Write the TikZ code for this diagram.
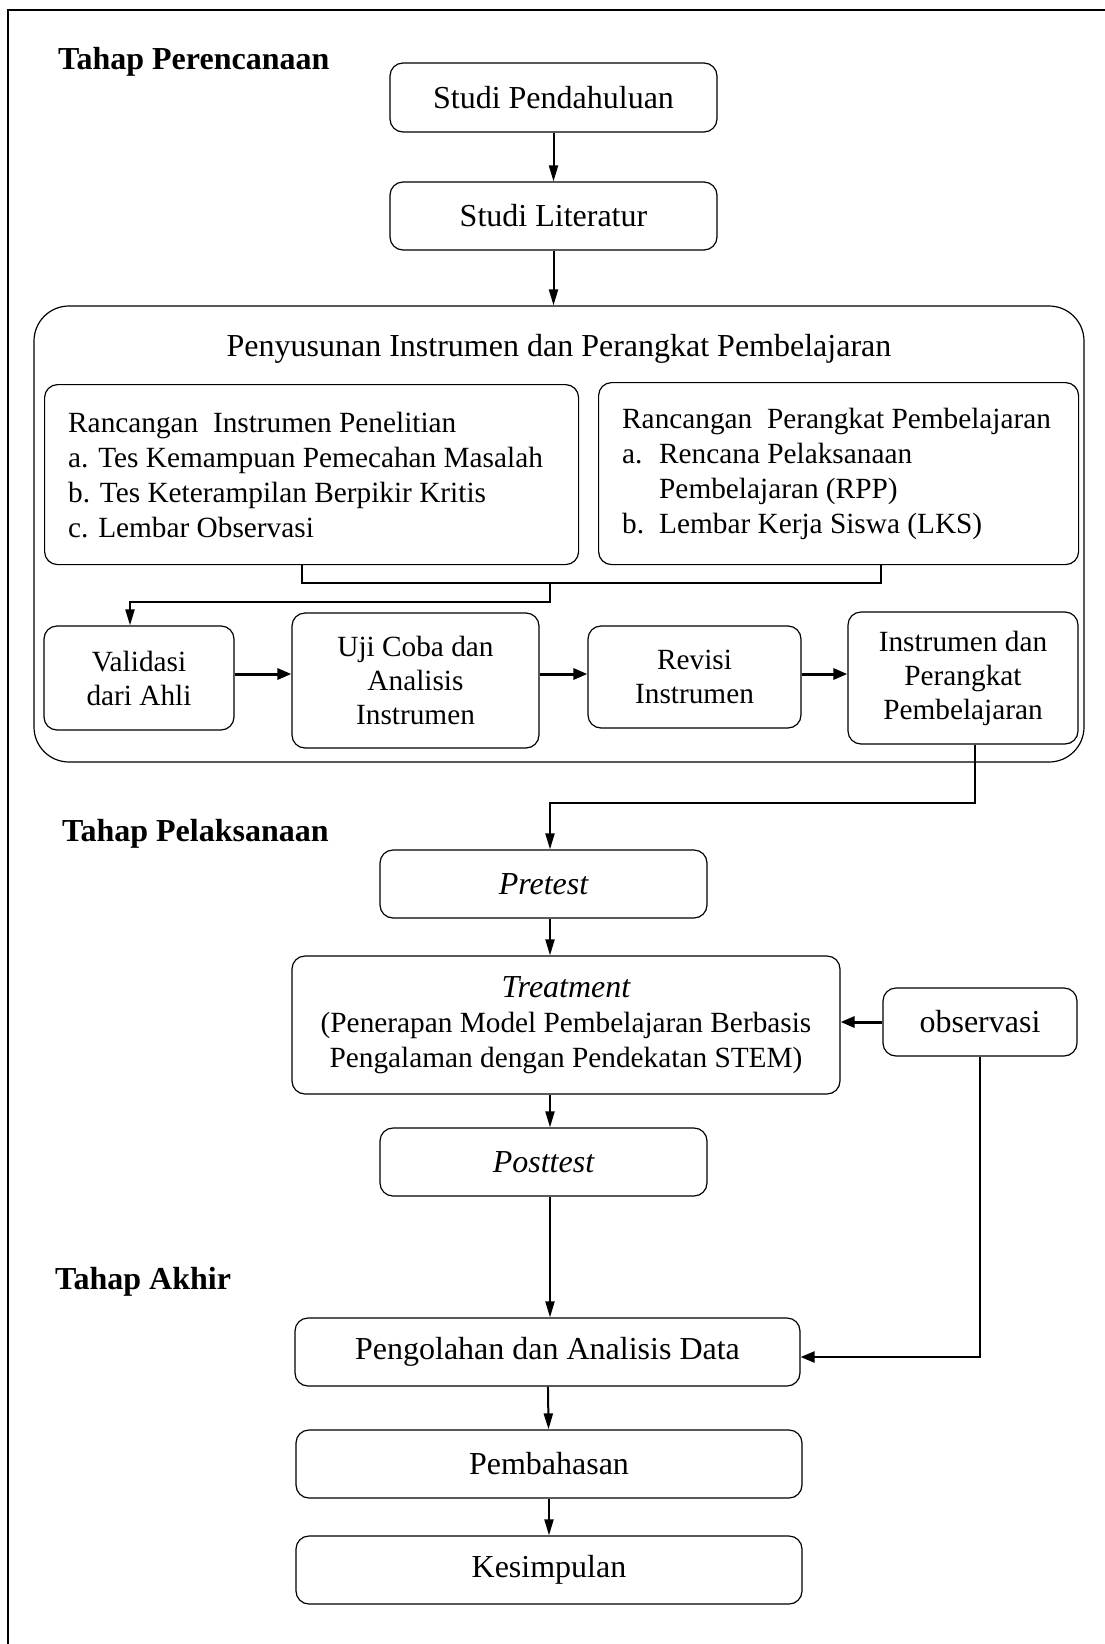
\documentclass[tikz,border=0pt]{standalone}
\usepackage{fontspec}
\setmainfont{Liberation Serif}
\usetikzlibrary{arrows.meta}
\newcommand\fz{\fontsize{32pt}{35pt}\selectfont}
\newcommand\fsm{\fontsize{29.3pt}{35pt}\selectfont}
\newcommand\fsr{\fontsize{29.3pt}{34pt}\selectfont}
\tikzset{
 box/.style={draw, line width=1.2pt, rounded corners=13pt, align=center, inner sep=0pt},
 smallbox/.style={box, font=\fsr},
 thinarrow/.style={line width=2pt, -{Triangle[length=16pt,width=9pt]}},
 thickarrow/.style={line width=3pt, -{Triangle[length=14pt,width=11pt]}},
 heading/.style={font=\fz\bfseries, anchor=west, inner sep=0pt},
 plaintext/.style={anchor=west, align=left, inner sep=0pt, font=\fsm},
 conn/.style={line width=2.2pt}
}
\begin{document}
\begin{tikzpicture}[x=1pt,y=-1pt, every node/.append style={font=\fz}]
\useasboundingbox (0,0) rectangle (1105,1644);
\draw[line width=2.5pt] (8,1650) -- (8,10) -- (1110,10);

% headings
\node[heading] (h1) at (58,62) {Tahap Perencanaan};
\node[heading] (h2) at (62,834) {Tahap Pelaksanaan};
\node[heading] (h3) at (55,1282) {Tahap Akhir};

% planning
\node[box, minimum width=327pt, minimum height=69pt] (sp) at (553.5,97.5) {Studi Pendahuluan};
\node[box, minimum width=327pt, minimum height=68pt] (sl) at (553.5,216) {Studi Literatur};
\node[box, rounded corners=35pt, minimum width=1050pt, minimum height=456pt] (big) at (559,534) {};
\node (pt) at (559,349) {Penyusunan Instrumen dan Perangkat Pembelajaran};

\node[box, anchor=north west, minimum width=534pt, minimum height=180pt] (ri) at (44,384) {};
\node[plaintext] (ritxt) at ([xshift=24pt]ri.west) {Rancangan\ \ Instrumen Penelitian\\a. Tes Kemampuan Pemecahan Masalah\\b. Tes Keterampilan Berpikir Kritis\\c. Lembar Observasi};
\node[box, anchor=north west, minimum width=480pt, minimum height=182pt] (rp) at (598,382) {};
\node[plaintext] (rptxt) at ([xshift=24pt]rp.west) {Rancangan\ \ Perangkat Pembelajaran\\\makebox[37pt][l]{a.}Rencana Pelaksanaan\\\hspace*{37pt}Pembelajaran (RPP)\\\makebox[37pt][l]{b.}Lembar Kerja Siswa (LKS)};

\node[smallbox, minimum width=190pt, minimum height=104pt] (val) at (139,678) {Validasi\\dari Ahli};
\node[smallbox, minimum width=247pt, minimum height=135pt] (uji) at (415.5,680.5) {Uji Coba dan\\Analisis\\Instrumen};
\node[smallbox, minimum width=213pt, minimum height=102pt] (rev) at (694.5,677) {Revisi\\Instrumen};
\node[smallbox, minimum width=230pt, minimum height=132pt] (ipp) at (963,678) {Instrumen dan\\Perangkat\\Pembelajaran};

% implementation
\node[box, minimum width=327pt, minimum height=68pt] (pre) at (543.5,884) {\itshape Pretest};
\node[box, font=\fsm, minimum width=548pt, minimum height=138pt] (tre) at (566,1025) {{\fz\itshape Treatment}\\(Penerapan Model Pembelajaran Berbasis\\Pengalaman dengan Pendekatan STEM)};
\node[box, minimum width=194pt, minimum height=68pt] (obs) at (980,1022) {observasi};
\node[box, minimum width=327pt, minimum height=68pt] (post) at (543.5,1162) {\itshape Posttest};

% final
\node[box, minimum width=505pt, minimum height=68pt] (peng) at (547.5,1352) {Pengolahan dan Analisis Data};
\node[box, minimum width=506pt, minimum height=68pt] (pem) at (549,1464) {Pembahasan};
\node[box, minimum width=506pt, minimum height=68pt] (kes) at (549,1570) {Kesimpulan};

% coordinates
\coordinate (j1) at (302,583);
\coordinate (j2) at (881,583);
\coordinate (j3) at (550,583);
\coordinate (j4) at (550,602);
\coordinate (j5) at (130,602);
\coordinate (ar) at (0,674);
\coordinate (k1) at (975,803);
\coordinate (k2) at (550,803);
\coordinate (c550) at (550,0);
\coordinate (m1) at (980,1357);

% connectors
\draw[thinarrow] (sp) -- (sl);
\draw[thinarrow] (sl.south) -- (sl.south |- big.north);
\draw[conn] (j1 |- ri.south) -- (j1) -- (j2) -- (j2 |- rp.south);
\draw[conn, -{Triangle[length=16pt,width=9pt]}] (j3) -- (j4) -- (j5) -- (j5 |- val.north);
\draw[thickarrow] (val.east |- ar) -- (uji.west |- ar);
\draw[thickarrow] (uji.east |- ar) -- (rev.west |- ar);
\draw[thickarrow] (rev.east |- ar) -- (ipp.west |- ar);
\draw[thinarrow] (k1 |- ipp.south) -- (k1) -- (k2) -- (k2 |- pre.north);
\draw[thinarrow] (c550 |- pre.south) -- (c550 |- tre.north);
\draw[thinarrow] (c550 |- tre.south) -- (c550 |- post.north);
\draw[thinarrow] (c550 |- post.south) -- (c550 |- peng.north);
\draw[thinarrow] (peng) -- (pem);
\draw[thinarrow] (pem) -- (kes);
\draw[thickarrow] (obs.west) -- (obs.west -| tre.east);
\draw[line width=2.5pt, -{Triangle[length=14pt,width=11pt]}] (obs.south) -- (m1) -- (m1 -| peng.east);
\end{tikzpicture}
\end{document}
